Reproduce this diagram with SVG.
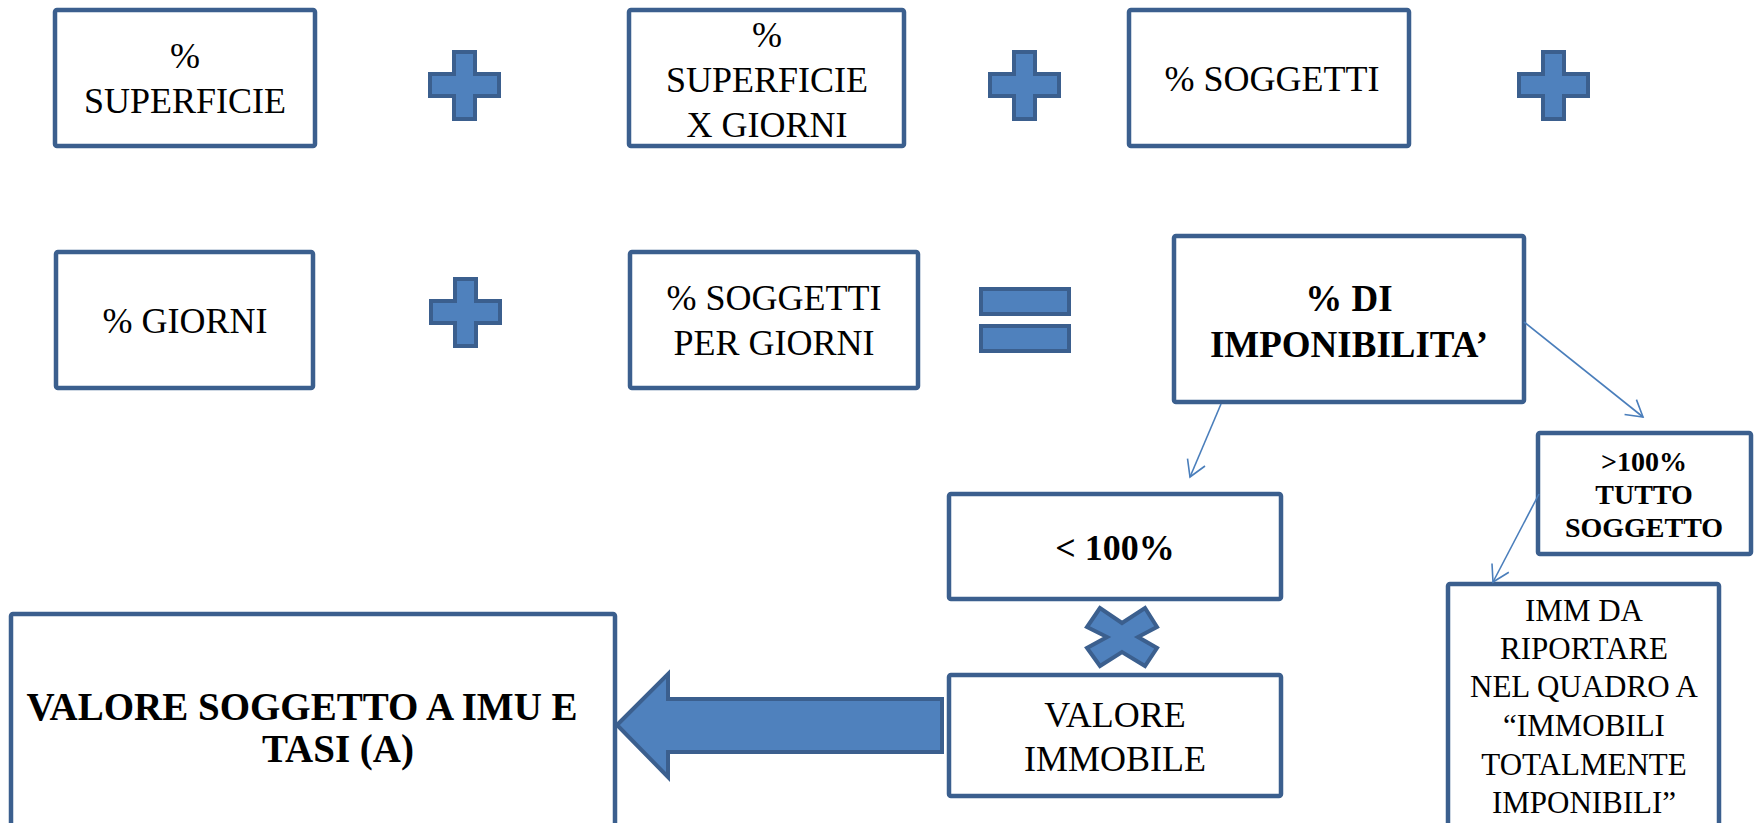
<svg xmlns="http://www.w3.org/2000/svg" width="1756" height="823" viewBox="0 0 1756 823">
<style>
.box{fill:#fff;stroke:#3B5F8E;stroke-width:4.5}
.sym{fill:#4F81BD;stroke:#3B5F8E;stroke-width:4;stroke-linejoin:miter}
.t{font-family:"Liberation Serif","Times New Roman",serif;font-size:36px;fill:#000;text-anchor:middle}
.b{font-weight:bold}
.conn{fill:none;stroke:#4A7EBB;stroke-width:1.6}
</style>
<defs>
<marker id="ah" viewBox="-18 -11 20 22" markerWidth="20" markerHeight="22" markerUnits="userSpaceOnUse" refX="0" refY="0" orient="auto">
<path d="M-16,-9.5 L0,0 L-16,9.5" fill="none" stroke="#4A7EBB" stroke-width="1.6"/>
</marker>
<path id="plus" d="M26,2 H47 V24 H71 V46 H47 V69 H26 V46 H2 V24 H26 Z"/>
</defs>

<g id="n-superficie">
<rect class="box" x="55" y="10" width="260" height="136" rx="2"/>
<text class="t" x="185" y="68">%</text>
<text class="t" x="185" y="113">SUPERFICIE</text>
</g>
<g id="plus1"><use href="#plus" class="sym" x="428" y="50"/></g>
<g id="n-superficie-giorni">
<rect class="box" x="629" y="10" width="275" height="136" rx="2"/>
<text class="t" x="767" y="47">%</text>
<text class="t" x="767" y="92">SUPERFICIE</text>
<text class="t" x="767" y="137">X GIORNI</text>
</g>
<g id="plus2"><use href="#plus" class="sym" x="988" y="50"/></g>
<g id="n-soggetti">
<rect class="box" x="1129" y="10" width="280" height="136" rx="2"/>
<text class="t" x="1272" y="91">% SOGGETTI</text>
</g>
<g id="plus3"><use href="#plus" class="sym" x="1517" y="50"/></g>

<g id="n-giorni">
<rect class="box" x="56" y="252" width="257" height="136" rx="2"/>
<text class="t" x="185" y="333">% GIORNI</text>
</g>
<g id="plus4"><use href="#plus" class="sym" x="429" y="277"/></g>
<g id="n-soggetti-giorni">
<rect class="box" x="630" y="252" width="288" height="136" rx="2"/>
<text class="t" x="774" y="310">% SOGGETTI</text>
<text class="t" x="774" y="355">PER GIORNI</text>
</g>
<g id="equals">
<rect class="sym" x="981" y="289" width="88" height="25"/>
<rect class="sym" x="981" y="326" width="88" height="25"/>
</g>
<g id="n-imponibilita">
<rect class="box" x="1174" y="236" width="350" height="166" rx="2"/>
<text class="t b" x="1349" y="311" style="font-size:37px">% DI</text>
<text class="t b" x="1349" y="357" style="font-size:37px">IMPONIBILITA’</text>
</g>

<g id="n-meno100">
<rect class="box" x="949" y="494" width="332" height="105" rx="2"/>
<text class="t b" x="1115" y="560">&lt; 100%</text>
</g>
<g id="times">
<polygon class="sym" points="1100,608 1087,627 1107,637 1087,648 1100,666 1122,652 1145,666 1157,648 1138,637 1157,627 1145,608 1122,623"/>
</g>
<g id="n-valore-immobile">
<rect class="box" x="949" y="675" width="332" height="121" rx="2"/>
<text class="t" x="1115" y="727">VALORE</text>
<text class="t" x="1115" y="771">IMMOBILE</text>
</g>
<g id="n-valore-soggetto">
<rect class="box" x="11" y="614" width="604" height="240" rx="2"/>
<text class="t b" x="302" y="720" style="font-size:39px">VALORE SOGGETTO A IMU E</text>
<text class="t b" x="338" y="762" style="font-size:39px">TASI (A)</text>
</g>
<g id="big-arrow">
<polygon class="sym" points="617,725 668,674 668,699 942,699 942,752 668,752 668,777"/>
</g>

<g id="n-oltre100">
<rect class="box" x="1538" y="433" width="213" height="121" rx="2"/>
<text class="t b" x="1644" y="471" style="font-size:28px">&gt;100%</text>
<text class="t b" x="1644" y="504" style="font-size:28px">TUTTO</text>
<text class="t b" x="1644" y="537" style="font-size:28px">SOGGETTO</text>
</g>
<g id="n-imm-riportare">
<rect class="box" x="1448" y="584" width="271" height="270" rx="2"/>
<text class="t" x="1584" y="621" style="font-size:31px">IMM DA</text>
<text class="t" x="1584" y="659" style="font-size:31px">RIPORTARE</text>
<text class="t" x="1584" y="697" style="font-size:31px">NEL QUADRO A</text>
<text class="t" x="1584" y="736" style="font-size:31px">“IMMOBILI</text>
<text class="t" x="1584" y="775" style="font-size:31px">TOTALMENTE</text>
<text class="t" x="1584" y="813" style="font-size:31px">IMPONIBILI”</text>
</g>

<g id="connectors">
<line class="conn" x1="1221" y1="404" x2="1190" y2="477" marker-end="url(#ah)"/>
<line class="conn" x1="1524" y1="322" x2="1643" y2="417" marker-end="url(#ah)"/>
<line class="conn" x1="1539" y1="494" x2="1493" y2="582" marker-end="url(#ah)"/>
</g>
</svg>
